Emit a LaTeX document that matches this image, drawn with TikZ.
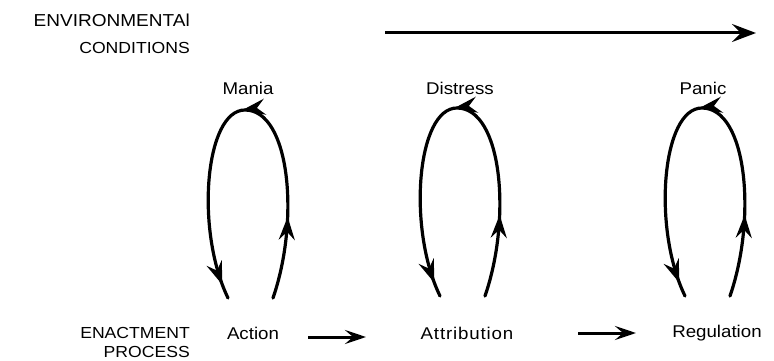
\documentclass[tikz,border=0pt]{standalone}
\usepackage{fontspec}
\setmainfont{Liberation Sans}[FakeStretch=1.1]
\usetikzlibrary{arrows.meta,decorations.markings}
\tikzset{
  lbl/.style={inner sep=0pt, font=\fontsize{17}{19}\selectfont},
  caps/.style={inner sep=0pt, font=\fontsize{16}{18}\selectfont},
  flow/.style={line width=3pt, -{Stealth[length=24pt,width=18pt,inset=9pt]}},
  flowsmall/.style={line width=3pt, -{Stealth[length=21pt,width=14pt,inset=8pt]}},
  looptip/.tip={Stealth[length=23pt,width=16pt,inset=8pt]},
  loopline/.style={line width=3.2pt, line cap=round,
    postaction={decorate},
    decoration={markings,
      mark=at position 0.20 with {\arrow{looptip}},
      mark=at position 0.51 with {\arrow{looptip}},
      mark=at position 0.965 with {\arrow{looptip}}}}
}
\newcommand{\cycleloop}[2]{%
  \begin{scope}[shift={(#1,#2)}]
    \coordinate (lb) at (28,188);
    \coordinate (lt) at (0,0);
    \coordinate (la) at (-17,188);
    \draw[loopline] (lb) .. controls (55,110) and (45,0) .. (lt)
                         .. controls (-40,0) and (-50,120) .. (la);
  \end{scope}}
\begin{document}
\begin{tikzpicture}[x=1pt,y=-1pt]
\useasboundingbox (0,0) rectangle (774,361);
\node[inner sep=0pt, font=\fontsize{17.3}{19}\selectfont, anchor=east] (env1) at (190,20) {ENVIRONMENTAl};
\node[caps, anchor=east] (env2) at (190,48) {CONDITIONS};
\coordinate (ts) at (385,33);
\coordinate (te) at (756,33);
\draw[flow] (ts) -- (te);

\node[lbl] (mania) at (248,88) {Mania};
\node[lbl] (distress) at (460,88) {Distress};
\node[lbl] (panic) at (703,88) {Panic};

\cycleloop{245}{110}
\cycleloop{457}{108}
\cycleloop{702}{108}

\node[caps, anchor=east] (enact) at (190,333) {ENACTMENT};
\node[caps, anchor=east] (proc) at (190,352) {PROCESS};
\node[lbl] (action) at (253,333) {Action};
\node[lbl] (attrib) at (467,333) {\addfontfeature{LetterSpace=5}Attribution};
\node[lbl] (regul) at (717,333) {Regulation};

\coordinate (a1s) at (308,337);
\coordinate (a1e) at (366,337);
\coordinate (a2s) at (578,333);
\coordinate (a2e) at (636,333);
\draw[flowsmall] (a1s) -- (a1e);
\draw[flowsmall] (a2s) -- (a2e);
\end{tikzpicture}
\end{document}
